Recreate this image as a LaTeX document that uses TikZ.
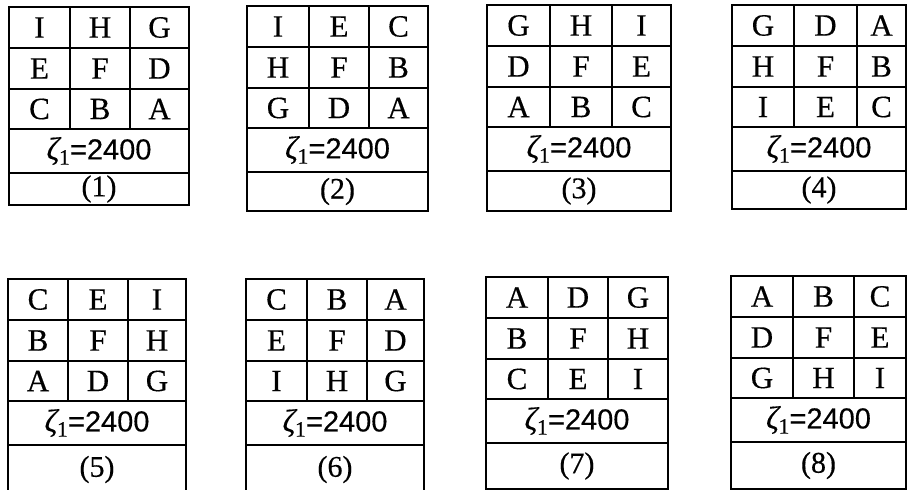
\documentclass[tikz,border=0pt]{standalone}
\usepackage{fontspec}
\setmainfont[FakeBold=0.4]{Liberation Serif}
\setsansfont[FakeBold=0.3]{Liberation Sans}
\tikzset{
  cellbox/.style={draw=black, line width=1.5pt, inner sep=0pt, outer sep=0pt,
    font=\fontsize{31}{31}\selectfont},
  zetabox/.style={cellbox, font=\fontsize{29}{29}\selectfont},
  labbox/.style={cellbox, font=\fontsize{30}{30}\selectfont},
  frame/.style={draw=black, line width=2pt}
}
\newcommand\zetaone{{\fontsize{32}{32}\selectfont\itshape ζ}\kern-0.5pt\raisebox{-0.18em}{\fontsize{22}{22}\selectfont 1}}
\newcommand\cellnode[7]{% style, name, x1, y1, x2, y2, text
  \pgfmathsetmacro\cw{(#5)-(#3)}\pgfmathsetmacro\ch{(#6)-(#4)}%
  \pgfmathsetmacro\cx{((#3)+(#5))/2}\pgfmathsetmacro\cy{((#4)+(#6))/2}%
  \node[#1, minimum width=\cw pt, minimum height=\ch pt] (#2) at (\cx,\cy) {#7};%
}
\newcommand\gridpanel[9]{% id, L, c1, c2, R, top, bottom, letters, label
  \foreach \t [count=\i from 0] in {#8} {%
    \pgfmathtruncatemacro\rr{div(\i,3)}\pgfmathtruncatemacro\cc{mod(\i,3)}%
    \ifcase\cc \def\xl{#2}\def\xr{#3}\or \def\xl{#3}\def\xr{#4}\or \def\xl{#4}\def\xr{#5}\fi
    \ifcase\rr \def\yt{#6}\def\yb{#6+41}\or \def\yt{#6+41}\def\yb{#6+82}\or \def\yt{#6+82}\def\yb{#6+122}\fi
    \cellnode{cellbox}{#1-\rr\cc}{\xl}{\yt}{\xr}{\yb}{\t}%
  }%
  \cellnode{zetabox}{#1-z}{#2}{#6+122}{#5}{#6+166}{\zetaone\sffamily=2400}%
  \cellnode{labbox}{#1-n}{#2}{#6+166}{#5}{#7}{(#9)}%
  \draw[frame] (#2,#6) rectangle (#5,#7);%
}
\begin{document}
\begin{tikzpicture}[x=1pt,y=-1pt]
\useasboundingbox (0,0) rectangle (908,490);
\gridpanel{p1}{9}{70}{130}{189}{7}{205}{I,H,G,E,F,D,C,B,A}{1}
\gridpanel{p2}{247}{309}{369}{428}{6}{211}{I,E,C,H,F,B,G,D,A}{2}
\gridpanel{p3}{487}{550}{612}{671}{5}{211}{G,H,I,D,F,E,A,B,C}{3}
\gridpanel{p4}{732}{794}{857}{906}{5}{209}{G,D,A,H,F,B,I,E,C}{4}
\gridpanel{p5}{8}{68}{128}{186}{279}{494}{C,E,I,B,F,H,A,D,G}{5}
\gridpanel{p6}{246}{307}{367}{424}{279}{494}{C,B,A,E,F,D,I,H,G}{6}
\gridpanel{p7}{486}{548}{608}{668}{277}{489}{A,D,G,B,F,H,C,E,I}{7}
\gridpanel{p8}{731}{793}{854}{906}{276}{489}{A,B,C,D,F,E,G,H,I}{8}
\end{tikzpicture}
\end{document}
